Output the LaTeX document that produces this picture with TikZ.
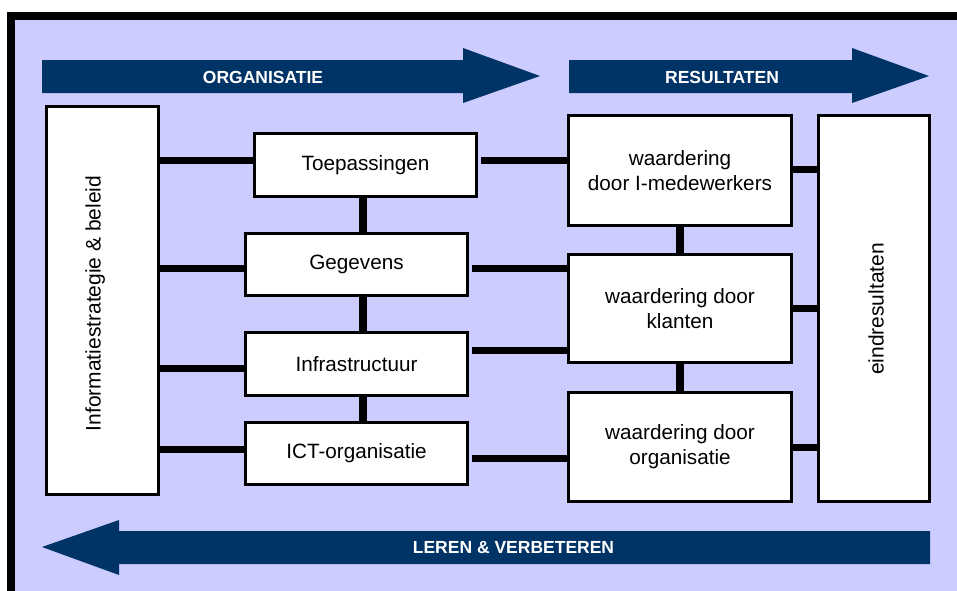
\documentclass[tikz,border=0pt]{standalone}
\usepackage{fontspec}
\setmainfont{Liberation Sans}
\definecolor{navy}{HTML}{003366}
\definecolor{lavender}{HTML}{CCCCFF}
\begin{document}
\begin{tikzpicture}[x=1pt,y=-1pt,
  box/.style={draw=black,line width=2.2pt,fill=white,inner sep=0pt,align=center,
              font=\fontsize{20.7}{25}\selectfont},
  sidelabel/.style={inner sep=0pt,rotate=90,font=\fontsize{21}{25}\selectfont},
  link/.style={line width=7pt,draw=black},
  band/.style={fill=navy},
  bandlabel/.style={text=white,inner sep=0pt,font=\bfseries\fontsize{17.5}{20}\selectfont}]

\useasboundingbox (0,0) rectangle (957,590);
\clip (0,0) rectangle (957,590);

% frame and background
\fill[black] (7,12) rectangle (990,620);
\fill[lavender] (15,19.5) rectangle (990,620);

% direction bands
\fill[band] (42,60) -- (463,60) -- (463,48) -- (540,76) -- (463,103) -- (463,93) -- (42,93) -- cycle;
\fill[band] (569,60) -- (852,60) -- (852,48) -- (929,76) -- (852,103) -- (852,93) -- (569,93) -- cycle;
\fill[band] (930,531) -- (119,531) -- (119,520) -- (42,547) -- (119,575) -- (119,564) -- (930,564) -- cycle;
\node[bandlabel] (org) at (263,77) {ORGANISATIE};
\node[bandlabel] (res) at (722,77) {RESULTATEN};
\node[bandlabel] (ler) at (513.5,548) {LEREN \& VERBETEREN};

% boxes
\node[box,minimum width=111pt,minimum height=387pt] (lb) at (102.5,300.5) {};
\node[sidelabel] (lbt) at (95.3,303.5) {Informatiestrategie \& beleid};

\node[box,minimum width=221pt,minimum height=62pt] (t) at (365.5,165) {Toepassingen};
\node[box,minimum width=221pt,minimum height=61pt] (g) at (356.5,264.5) {Gegevens};
\node[box,minimum width=221pt,minimum height=62pt] (i) at (356.5,364) {Infrastructuur};
\node[box,minimum width=221pt,minimum height=61pt] (c) at (356.5,453.5) {ICT-organisatie};

\node[box,minimum width=222pt,minimum height=109pt] (r1) at (680,170.5) {waardering\\door I-medewerkers};
\node[box,minimum width=222pt,minimum height=107pt] (r2) at (680,308.5) {waardering door\\klanten};
\node[box,minimum width=222pt,minimum height=108pt] (r3) at (680,447) {waardering door\\organisatie};

\node[box,minimum width=110pt,minimum height=385pt] (e) at (874,308.5) {};
\node[sidelabel] (et) at (876,309) {eindresultaten};

% left connectors
\coordinate (tw) at ([yshift=5pt]t.west);
\coordinate (gw) at ([yshift=-3.5pt]g.west);
\coordinate (iw) at ([yshift=-4pt]i.west);
\coordinate (cw) at ([yshift=4.5pt]c.west);
\draw[link] (tw -| lb.east) -- (tw);
\draw[link] (gw -| lb.east) -- (gw);
\draw[link] (iw -| lb.east) -- (iw);
\draw[link] (cw -| lb.east) -- (cw);

% vertical chain of the middle column
\coordinate (vt) at ([xshift=-2.5pt]t.south);
\coordinate (vg) at ([xshift=6.5pt]g.south);
\coordinate (vi) at ([xshift=6.5pt]i.south);
\draw[link,line width=8pt] (vt) -- (vt |- g.north);
\draw[link,line width=8pt] (vg) -- (vg |- i.north);
\draw[link,line width=8pt] (vi) -- (vi |- c.north);

% middle column to result boxes
\coordinate (te) at ([xshift=4pt,yshift=5pt]t.east);
\coordinate (ge) at ([xshift=4pt,yshift=-3.5pt]g.east);
\coordinate (ie) at ([xshift=4pt,yshift=14pt]i.east);
\coordinate (ce) at ([xshift=4pt,yshift=-4.5pt]c.east);
\draw[link] (te) -- (te -| r1.west);
\draw[link] (ge) -- (ge -| r2.west);
\draw[link] (ie) -- (ie -| r2.west);
\draw[link] (ce) -- (ce -| r3.west);

% result boxes chain and end results
\draw[link,line width=8pt] (r1.south) -- (r2.north);
\draw[link,line width=8pt] (r2.south) -- (r3.north);
\coordinate (r1e) at ([yshift=1.5pt]r1.east);
\draw[link] (r1e) -- (r1e -| e.west);
\draw[link] (r2.east) -- (r2.east -| e.west);
\draw[link] (r3.east) -- (r3.east -| e.west);

% redraw box outlines over connector ends
\foreach \n in {lb,t,g,i,c,r1,r2,r3,e}
  \draw[line width=2.2pt] (\n.north west) rectangle (\n.south east);
\end{tikzpicture}
\end{document}
